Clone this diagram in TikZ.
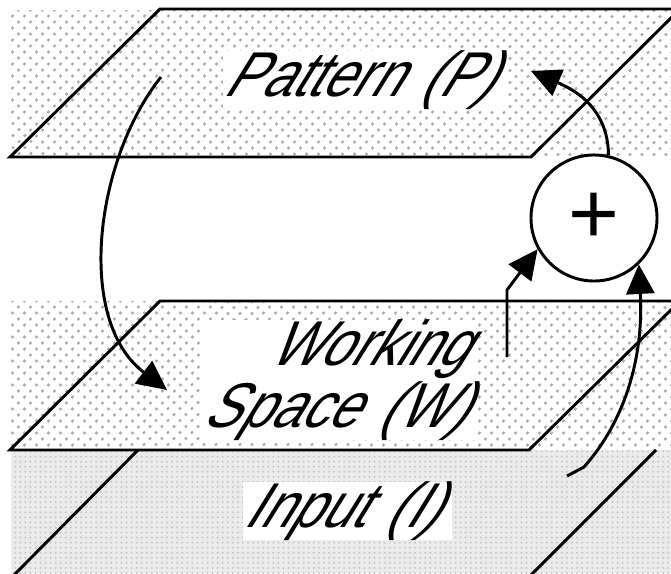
\documentclass[tikz,border=0pt]{standalone}
\usepackage{fontspec}
\newfontfamily\planefont[FakeSlant=0.62,FakeStretch=0.86]{Liberation Sans}
\newfontfamily\signfont{Liberation Sans}
\usetikzlibrary{arrows.meta,patterns.meta}

\begin{document}
\begin{tikzpicture}[
  x=0.025cm, y=-0.025cm,
  band/.style={preaction={fill=white}, pattern={Dots[distance=6.5pt, radius=1.1pt, angle=45]}, pattern color=black!32},
  denseband/.style={preaction={fill=black!8}, pattern={Dots[distance=3.6pt, radius=0.8pt]}, pattern color=black!22},
  plane/.style={draw, line width=2.1pt},
  tag/.style={fill=white, inner sep=0pt, font=\fontsize{45}{44}\planefont},
  sumnode/.style={circle, draw, line width=2.1pt, fill=white, minimum size=3.15cm, inner sep=0pt,
                  font=\fontsize{62}{62}\signfont},
  flow/.style={-{Triangle[length=21pt, width=20pt]}, line width=2.1pt},
]
\useasboundingbox (0,0) rectangle (671,573);

% ---- faixas de fundo
\path[band] (11,10) rectangle (671,157);
\path[band] (11,301) rectangle (671,450);
\path[denseband] (11,450) rectangle (671,573);

% ---- planos
\draw[plane] (160,9) -- (680,9) -- (531,157) -- (10,157) -- cycle;
\draw[plane] (160,301) -- (680,301) -- (529,450) -- (10,450) -- cycle;
\draw[plane] (138,450) -- (14,575);
\draw[plane] (656,450) -- (531,575);

% ---- rotulos
\node[tag, text width=7.13cm, minimum height=1.38cm, align=left] (pat) at (365.5,80.5) {Pattern (P)};
\node[tag, text width=6.9cm, minimum height=2.85cm, align=right] (work) at (340,380)
  {\mbox{Working\hspace{0.3cm}}\\\mbox{Space (W)\hspace{0.55cm}}};
\node[tag, text width=5.23cm, minimum height=1.4cm, align=left] (inp) at (347.5,511) {Input (I)};

% ---- somador
\node[sumnode] (sum) at (594,218) {+};

% ---- setas
\coordinate (ptail) at (161,77);
\coordinate (phead) at (167,390);
\coordinate (wtail) at (507,357);
\coordinate (itail) at (567,476);
\coordinate (ohead) at (531,71);
\draw[flow] (ptail) .. controls (95,160) and (75,320) .. (phead);
\draw[flow] (wtail) -- ++(0,-67) -- (sum.209);
\draw[flow] (itail) -- ++(17,-9) .. controls +(40,-45) and +(5,95) .. (sum.314);
\draw[flow] (sum.77) .. controls (608,105) and (570,88) .. (ohead);
\end{tikzpicture}
\end{document}
